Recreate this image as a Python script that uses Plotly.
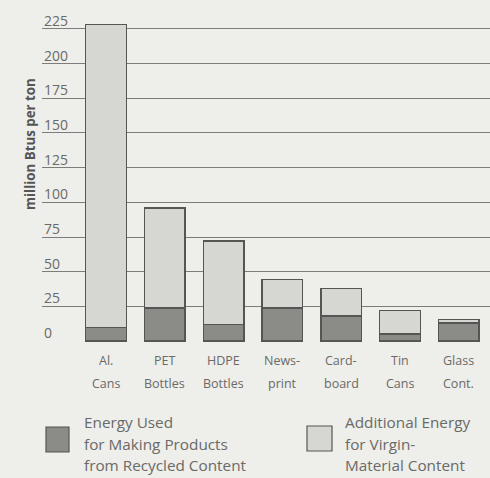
import plotly.graph_objects as go

categories_line1 = ["Al.", "PET", "HDPE", "News-", "Card-", "Tin", "Glass"]
categories_line2 = ["Cans", "Bottles", "Bottles", "print", "board", "Cans", "Cont."]
recycled = [10, 24, 12, 24, 18, 5, 13]
additional = [218, 72, 60, 20.5, 20, 17, 2.5]
y_ticks = [0, 25, 50, 75, 100, 125, 150, 175, 200, 225]
legend_recycled = ["Energy Used", "for Making Products", "from Recycled Content"]
legend_additional = ["Additional Energy", "for Virgin-", "Material Content"]

BG = "#eeeeea"
DARK = "#8b8b87"
LIGHT = "#d6d6d2"
EDGE = "#555553"
TXT = "#6a6a68"
FONT = "Open Sans"

xs = list(range(len(categories_line1)))

W, H = 490, 478
L, T, B = 42, 8, 136
pw, ph = W - L, H - T - B

def px(x):
    return (x - L) / pw

def py(y):
    return (H - B - y) / ph

fig = go.Figure()
fig.add_bar(x=xs, y=recycled, marker=dict(color=DARK, line=dict(color=EDGE, width=1.5)),
            width=0.69, name="recycled")
fig.add_bar(x=xs, y=additional, marker=dict(color=LIGHT, line=dict(color=EDGE, width=1.5)),
            width=0.69, name="additional")

annotations = []
for v in y_ticks:
    annotations.append(dict(x=0, xref="paper", xanchor="left", y=v, yref="y",
                            yanchor="bottom", yshift=-3, text=str(v), showarrow=False,
                            font=dict(family=FONT, size=14, color=TXT)))
for i, (a, b) in enumerate(zip(categories_line1, categories_line2)):
    annotations.append(dict(x=i, xref="x", y=py(360), yref="paper", yanchor="middle", text=a,
                            showarrow=False, font=dict(family=FONT, size=12.5, color=TXT)))
    annotations.append(dict(x=i, xref="x", y=py(383), yref="paper", yanchor="middle", text=b,
                            showarrow=False, font=dict(family=FONT, size=12.5, color=TXT)))

annotations.append(dict(x=px(19), xref="paper", y=py(144), yref="paper", text="<b>million Btus per ton</b>",
                        textangle=-90, showarrow=False, font=dict(family=FONT, size=13.3, color="#555553")))
for xl, lines in ((82, legend_recycled), (343, legend_additional)):
    for yl, line in zip((422, 444, 465), lines):
        annotations.append(dict(x=px(xl), xref="paper", xanchor="left", y=py(yl), yref="paper",
                                yanchor="middle", align="left", text=line, showarrow=False,
                                font=dict(family=FONT, size=15.3, color=TXT)))

shapes = [
    dict(type="rect", xref="paper", yref="paper", x0=px(46), x1=px(69), y0=py(452), y1=py(427),
         fillcolor=DARK, line=dict(color=EDGE, width=1.2)),
    dict(type="rect", xref="paper", yref="paper", x0=px(307), x1=px(332), y0=py(451), y1=py(426),
         fillcolor=LIGHT, line=dict(color=EDGE, width=1.2)),
]

fig.update_layout(
    barmode="stack",
    width=W, height=H,
    margin=dict(l=L, r=0, t=T, b=B, pad=0),
    paper_bgcolor=BG, plot_bgcolor=BG,
    showlegend=False,
    annotations=annotations,
    shapes=shapes,
    xaxis=dict(range=[-1.088, 6.53], showticklabels=False, showgrid=False, zeroline=False,
               ticks="", showline=False, fixedrange=True),
    yaxis=dict(range=[-0.6, 240], tickvals=y_ticks, showticklabels=False, showgrid=True,
               gridcolor="#7c7c7a", gridwidth=1, zeroline=False, ticks="", showline=False,
               fixedrange=True),
    bargap=0.3,
)

fig.write_html("out.html", config={"displayModeBar": False},
               post_script="document.body.style.margin='0';document.body.style.background='#eeeeea';")
